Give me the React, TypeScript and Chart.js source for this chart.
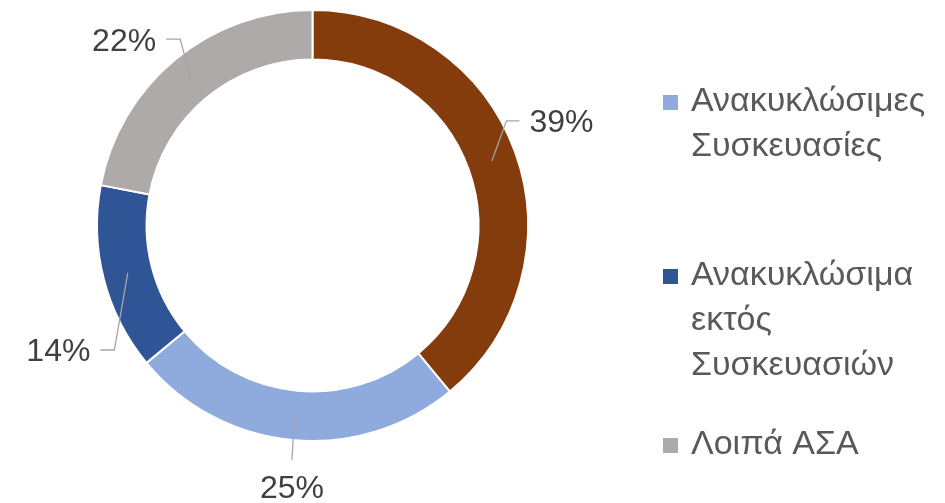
import React, { useEffect, useRef } from "react";
import { Chart, registerables } from "chart.js";

Chart.register(...registerables);

const categories = [
  "Οργανικά",
  "Ανακυκλώσιμες Συσκευασίες",
  "Ανακυκλώσιμα εκτός Συσκευασιών",
  "Λοιπά ΑΣΑ",
];
const shares = [39, 25, 14, 22];
const legendItems = [1, 2, 3];

const COLORS = ["#843C0C", "#8FAADC", "#2F5597", "#AEAAAA"];
const FONT = "'Liberation Sans', Arial, sans-serif";
const LABEL_SIZE = 32;
const LEGEND_SIZE = 34;
// label placement: angle offset (deg) from slice mid-angle, radius of text centre
const LABEL_POS = [
  { dA: -3.0, r: 270 },
  { dA: -0.9, r: 262 },
  { dA: -11.7, r: 283 },
  { dA: -5.7, r: 265 },
];
const LEGEND_BASELINES = [111, 285, 454];

const labelPlugin = {
  id: "outLabels",
  afterDraw(chart: any) {
    const ctx = chart.ctx;
    const meta = chart.getDatasetMeta(0);
    const data = chart.data.datasets[0].data as number[];
    const total = data.reduce((a, b) => a + b, 0);
    ctx.save();
    ctx.font = `${LABEL_SIZE}px ${FONT}`;
    meta.data.forEach((arc: any, i: number) => {
      const p = arc.getProps(
        ["x", "y", "startAngle", "endAngle", "innerRadius", "outerRadius"],
        true
      );
      const mid = (p.startAngle + p.endAngle) / 2;
      const rMid = (p.innerRadius + p.outerRadius) / 2;
      const ax = p.x + Math.cos(mid) * rMid;
      const ay = p.y + Math.sin(mid) * rMid;
      const la = mid + (LABEL_POS[i].dA * Math.PI) / 180;
      const tx = p.x + Math.cos(la) * LABEL_POS[i].r;
      const ty = p.y + Math.sin(la) * LABEL_POS[i].r;
      const text = Math.round((data[i] / total) * 100) + "%";
      const w = ctx.measureText(text).width;
      ctx.strokeStyle = "#A6A6A6";
      ctx.lineWidth = 1.3;
      ctx.beginPath();
      ctx.moveTo(ax, ay);
      if (Math.abs(tx - p.x) < 60) {
        const ey = ty > p.y ? ty - 27 : ty + 27;
        ctx.lineTo(tx, ey);
      } else if (tx > p.x) {
        const left = tx - w / 2;
        ctx.lineTo(left - 23, ty);
        ctx.lineTo(left - 10, ty);
      } else {
        const right = tx + w / 2;
        ctx.lineTo(right + 24, ty);
        ctx.lineTo(right + 10, ty);
      }
      ctx.stroke();
      ctx.fillStyle = "#404040";
      ctx.textAlign = "center";
      ctx.textBaseline = "alphabetic";
      ctx.fillText(text, tx, ty + LABEL_SIZE * 0.358);
    });

    // legend
    ctx.font = `${LEGEND_SIZE}px ${FONT}`;
    ctx.textAlign = "left";
    const textX = 691;
    const maxW = 945 - textX - 2;
    legendItems.forEach((idx, k) => {
      const base = LEGEND_BASELINES[k];
      ctx.fillStyle = COLORS[idx];
      ctx.fillRect(663, base - 16, 15, 15);
      const words = categories[idx].split(" ");
      const lines: string[] = [];
      let cur = "";
      words.forEach((wd) => {
        const trial = cur ? cur + " " + wd : wd;
        if (cur && ctx.measureText(trial).width > maxW) {
          lines.push(cur);
          cur = wd;
        } else cur = trial;
      });
      if (cur) lines.push(cur);
      ctx.fillStyle = "#595959";
      lines.forEach((ln, j) => ctx.fillText(ln, textX, base + j * 45));
    });
    ctx.restore();
  },
};

export default function App() {
  const ref = useRef<HTMLCanvasElement>(null);
  useEffect(() => {
    document.body.style.margin = "0";
    const chart = new Chart(ref.current as HTMLCanvasElement, {
      type: "doughnut",
      data: {
        labels: categories,
        datasets: [
          {
            data: shares,
            backgroundColor: COLORS,
            borderColor: "#FFFFFF",
            borderWidth: 2,
          },
        ],
      },
      options: {
        responsive: false,
        animation: false,
        cutout: "77%",
        layout: { padding: { left: 96, right: 416, top: 9, bottom: 61 } },
        plugins: {
          legend: { display: false },
          tooltip: { enabled: false },
        },
      },
      plugins: [labelPlugin],
    });
    return () => chart.destroy();
  }, []);
  return (
    <div style={{ width: 945, height: 503, background: "#fff" }}>
      <canvas ref={ref} width={945} height={503} />
    </div>
  );
}
